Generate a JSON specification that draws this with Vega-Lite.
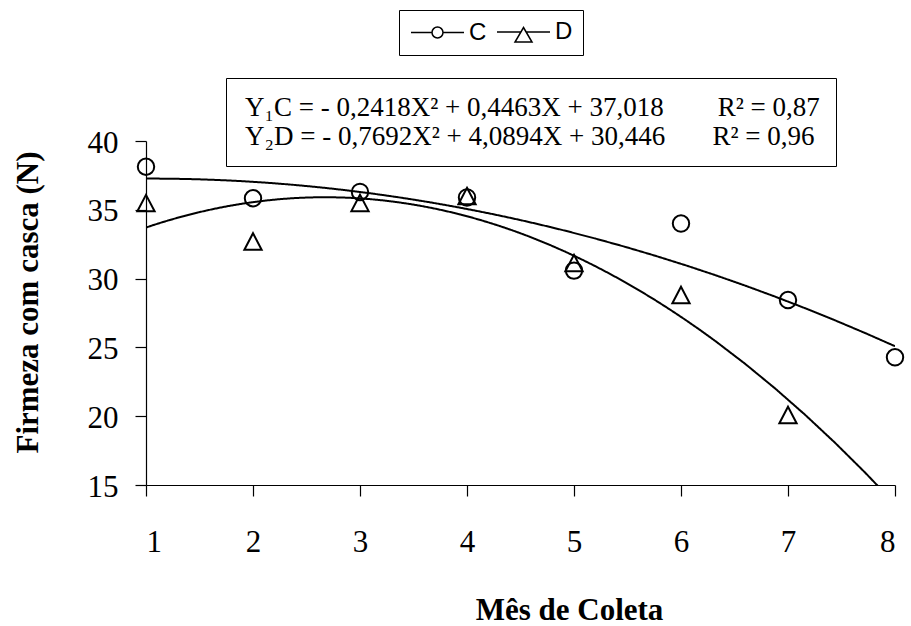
{
  "$schema": "https://vega.github.io/schema/vega-lite/v6.json",
  "width": 749,
  "height": 344,
  "autosize": {"type": "none"},
  "padding": {"left": 146, "top": 141, "right": 16, "bottom": 141},
  "background": "white",
  "config": {
    "view": {"stroke": null},
    "font": "Liberation Serif",
    "axis": {
      "grid": false,
      "domainColor": "black",
      "domainWidth": 1.2,
      "tickColor": "black",
      "tickWidth": 1.2,
      "tickSize": 11,
      "labelColor": "black",
      "labelFont": "Liberation Serif",
      "labelFontSize": 31,
      "titleColor": "black",
      "titleFont": "Liberation Serif",
      "titleFontSize": 31,
      "titleFontWeight": "bold"
    }
  },
  "data": {
    "values": [
      {"mes": 1, "firmeza": 38.13, "serie": "C", "eq": "Y\u2081C = - 0,2418X\u00b2 + 0,4463X + 37,018\u00a0\u00a0\u00a0\u00a0\u00a0\u00a0\u00a0\u00a0R\u00b2 = 0,87"},
      {"mes": 2, "firmeza": 35.84, "serie": "C", "eq": "Y\u2081C = - 0,2418X\u00b2 + 0,4463X + 37,018\u00a0\u00a0\u00a0\u00a0\u00a0\u00a0\u00a0\u00a0R\u00b2 = 0,87"},
      {"mes": 3, "firmeza": 36.3, "serie": "C", "eq": "Y\u2081C = - 0,2418X\u00b2 + 0,4463X + 37,018\u00a0\u00a0\u00a0\u00a0\u00a0\u00a0\u00a0\u00a0R\u00b2 = 0,87"},
      {"mes": 4, "firmeza": 35.9, "serie": "C", "eq": "Y\u2081C = - 0,2418X\u00b2 + 0,4463X + 37,018\u00a0\u00a0\u00a0\u00a0\u00a0\u00a0\u00a0\u00a0R\u00b2 = 0,87"},
      {"mes": 5, "firmeza": 30.58, "serie": "C", "eq": "Y\u2081C = - 0,2418X\u00b2 + 0,4463X + 37,018\u00a0\u00a0\u00a0\u00a0\u00a0\u00a0\u00a0\u00a0R\u00b2 = 0,87"},
      {"mes": 6, "firmeza": 34.0, "serie": "C", "eq": "Y\u2081C = - 0,2418X\u00b2 + 0,4463X + 37,018\u00a0\u00a0\u00a0\u00a0\u00a0\u00a0\u00a0\u00a0R\u00b2 = 0,87"},
      {"mes": 7, "firmeza": 28.44, "serie": "C", "eq": "Y\u2081C = - 0,2418X\u00b2 + 0,4463X + 37,018\u00a0\u00a0\u00a0\u00a0\u00a0\u00a0\u00a0\u00a0R\u00b2 = 0,87"},
      {"mes": 8, "firmeza": 24.28, "serie": "C", "eq": "Y\u2081C = - 0,2418X\u00b2 + 0,4463X + 37,018\u00a0\u00a0\u00a0\u00a0\u00a0\u00a0\u00a0\u00a0R\u00b2 = 0,87"},
      {"mes": 1, "firmeza": 35.49, "serie": "D", "eq": "Y\u2082D = - 0,7692X\u00b2 + 4,0894X + 30,446\u00a0\u00a0\u00a0\u00a0\u00a0\u00a0\u00a0R\u00b2 = 0,96"},
      {"mes": 2, "firmeza": 32.7, "serie": "D", "eq": "Y\u2082D = - 0,7692X\u00b2 + 4,0894X + 30,446\u00a0\u00a0\u00a0\u00a0\u00a0\u00a0\u00a0R\u00b2 = 0,96"},
      {"mes": 3, "firmeza": 35.5, "serie": "D", "eq": "Y\u2082D = - 0,7692X\u00b2 + 4,0894X + 30,446\u00a0\u00a0\u00a0\u00a0\u00a0\u00a0\u00a0R\u00b2 = 0,96"},
      {"mes": 4, "firmeza": 36.0, "serie": "D", "eq": "Y\u2082D = - 0,7692X\u00b2 + 4,0894X + 30,446\u00a0\u00a0\u00a0\u00a0\u00a0\u00a0\u00a0R\u00b2 = 0,96"},
      {"mes": 5, "firmeza": 31.13, "serie": "D", "eq": "Y\u2082D = - 0,7692X\u00b2 + 4,0894X + 30,446\u00a0\u00a0\u00a0\u00a0\u00a0\u00a0\u00a0R\u00b2 = 0,96"},
      {"mes": 6, "firmeza": 28.81, "serie": "D", "eq": "Y\u2082D = - 0,7692X\u00b2 + 4,0894X + 30,446\u00a0\u00a0\u00a0\u00a0\u00a0\u00a0\u00a0R\u00b2 = 0,96"},
      {"mes": 7, "firmeza": 20.09, "serie": "D", "eq": "Y\u2082D = - 0,7692X\u00b2 + 4,0894X + 30,446\u00a0\u00a0\u00a0\u00a0\u00a0\u00a0\u00a0R\u00b2 = 0,96"}
    ]
  },
  "encoding": {
    "x": {
      "field": "mes",
      "type": "quantitative",
      "scale": {"domain": [1, 8], "nice": false, "zero": false},
      "axis": {
        "title": "Mês de Coleta",
        "values": [1, 2, 3, 4, 5, 6, 7, 8],
        "labelPadding": 31,
        "titleX": 423,
        "titleY": 134,
        "titleBaseline": "alphabetic"
      }
    },
    "y": {
      "field": "firmeza",
      "type": "quantitative",
      "scale": {"domain": [15, 40], "nice": false, "zero": false},
      "axis": {
        "title": "Firmeza com casca (N)",
        "values": [15, 20, 25, 30, 35, 40],
        "labelPadding": 17,
        "labelOffset": 2,
        "titleX": -109,
        "titleY": 161,
        "titleBaseline": "alphabetic"
      }
    }
  },
  "layer": [
    {
      "transform": [
        {"regression": "firmeza", "on": "mes", "method": "poly", "order": 2, "groupby": ["serie", "eq"], "extent": [1, 8]}
      ],
      "mark": {"type": "line", "color": "black", "strokeWidth": 2, "clip": true},
      "encoding": {
        "detail": {"field": "serie"},
        "strokeDash": {
          "field": "eq",
          "type": "nominal",
          "scale": {"range": [[1, 0], [1, 0]]},
          "legend": {
            "title": null,
            "orient": "none",
            "legendX": 80,
            "legendY": -63,
            "direction": "vertical",
            "strokeColor": "black",
            "padding": 16,
            "rowPadding": 1,
            "labelFont": "Liberation Serif",
            "labelFontSize": 27,
            "labelColor": "black",
            "labelLimit": 2000,
            "labelOffset": -24,
            "symbolSize": 0,
            "symbolStrokeWidth": 0,
            "encode": {
              "symbols": {"update": {"opacity": {"value": 0}}},
              "legend": {"update": {"strokeWidth": {"value": 1.5}}}
            }
          }
        }
      }
    },
    {
      "mark": {"type": "point", "filled": false, "color": "black", "strokeWidth": 2, "size": 270, "opacity": 1},
      "encoding": {
        "shape": {
          "field": "serie",
          "type": "nominal",
          "scale": {"domain": ["C", "D"], "range": ["circle", "M0,-1L1.05,1L-1.05,1Z"]},
          "legend": null
        }
      }
    },
    {
      "mark": {"type": "point", "filled": false, "color": "black", "opacity": 0},
      "encoding": {
        "shape": {
          "field": "serie",
          "type": "nominal",
          "scale": {
            "domain": ["C", "D"],
            "range": [
              "M-1,0L1.1,0M2.2,0L4.3,0M2.2,0C2.2,0.304 1.954,0.55 1.65,0.55C1.346,0.55 1.1,0.304 1.1,0C1.1,-0.304 1.346,-0.55 1.65,-0.55C1.954,-0.55 2.2,-0.304 2.2,0Z",
              "M-1,0L1.386,0M1.914,0L4.3,0M1.65,-0.45L2.5,1L0.8,1Z"
            ]
          },
          "legend": {
            "title": null,
            "orient": "none",
            "legendX": 253,
            "legendY": -131,
            "direction": "horizontal",
            "strokeColor": "black",
            "padding": 10,
            "columnPadding": 7,
            "labelFont": "Liberation Sans",
            "labelFontSize": 24,
            "labelColor": "black",
            "labelOffset": 36,
            "symbolSize": 400,
            "symbolStrokeWidth": 1.5,
            "symbolStrokeColor": "black",
            "symbolFillColor": "transparent",
            "encode": {
              "symbols": {"update": {"opacity": {"value": 1}, "stroke": {"value": "black"}, "fill": {"value": "transparent"}, "strokeWidth": {"value": 1.5}, "size": {"value": 400}}},
              "legend": {"update": {"strokeWidth": {"value": 1.5}}}
            }
          }
        }
      }
    }
  ],
  "resolve": {"scale": {"shape": "independent"}, "legend": {"shape": "independent"}}
}
